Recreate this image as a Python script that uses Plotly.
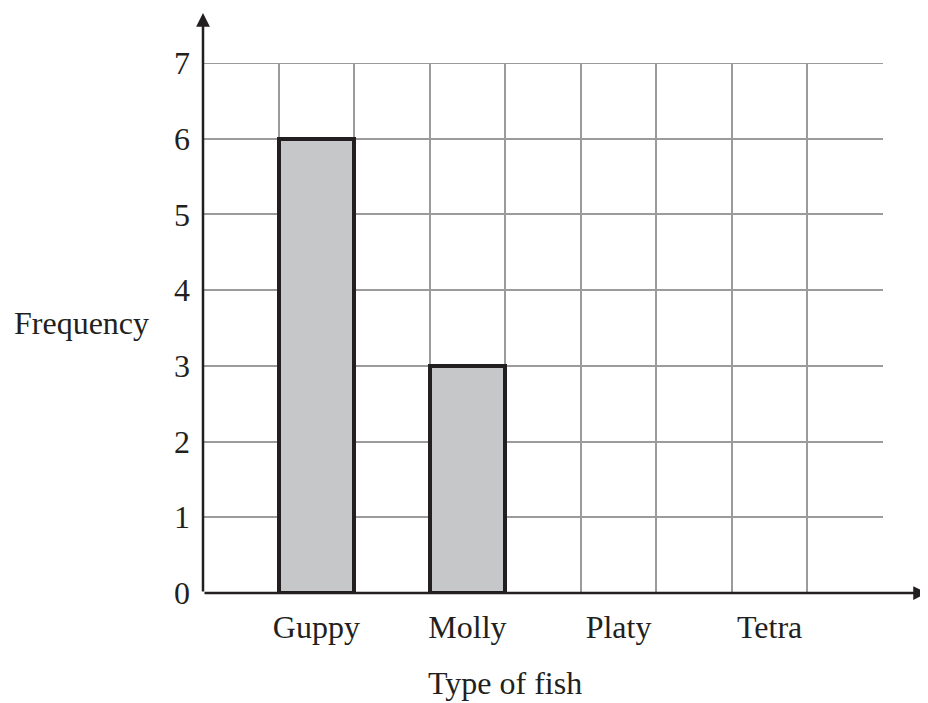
import plotly.graph_objects as go

categories = ["Guppy", "Molly", "Platy", "Tetra"]
frequency = [6, 3, 0, 0]
slot_positions = [1.5, 3.5, 5.5, 7.5]
y_ticks = [0, 1, 2, 3, 4, 5, 6, 7]
grid_x = [0, 1, 2, 3, 4, 5, 6, 7, 8, 9]

INK = "#231f20"
GRID = "#9b9b9b"
FONT = dict(family="Liberation Serif, Times New Roman, serif", size=32, color=INK)

W, H = 920, 695
ML, MR, MT, MB = 195, 45, 55, 110
PW = W - ML - MR
PH = H - MT - MB

fig = go.Figure()
fig.add_trace(go.Bar(
    x=slot_positions, y=frequency, width=1.0,
    marker=dict(color="#c6c7c9",
                line=dict(color=INK, width=[4 if v > 0 else 0 for v in frequency])),
    showlegend=False, hoverinfo="skip",
))

fig.update_layout(
    width=W, height=H,
    margin=dict(l=ML, r=MR, t=MT, b=MB),
    paper_bgcolor="white", plot_bgcolor="white",
    font=FONT,
    bargap=0,
    xaxis=dict(
        range=[0, 9], tickmode="array", tickvals=slot_positions, ticktext=categories,
        showgrid=False, zeroline=False, showline=False, ticks="",
        ticklabelstandoff=12, tickfont=FONT,
        minor=dict(tickmode="array", tickvals=grid_x, showgrid=True,
                   gridcolor=GRID, gridwidth=2, ticks=""),
    ),
    yaxis=dict(
        range=[0, 7], tickmode="array", tickvals=y_ticks,
        showgrid=True, gridcolor=GRID, gridwidth=2, zeroline=False,
        showline=False, ticks="", ticklabelstandoff=12, tickfont=FONT,
    ),
)

# top grid line at the last tick
fig.add_shape(type="line", xref="x", yref="y", x0=grid_x[0], x1=grid_x[-1],
              y0=y_ticks[-1], y1=y_ticks[-1], line=dict(color=GRID, width=2), layer="below")

# axis arrows
fig.add_annotation(x=0, xref="x", y=(PH + 50) / PH, yref="paper",
                   ax=0, ay=PH + 50, text="", showarrow=True,
                   arrowhead=2, arrowsize=1.1, arrowwidth=2.5, arrowcolor=INK)
fig.add_annotation(x=(PW + 44) / PW, xref="paper", y=0, yref="y",
                   ax=-(PW + 44), ay=0, text="", showarrow=True,
                   arrowhead=2, arrowsize=1.1, arrowwidth=2.5, arrowcolor=INK)

# axis titles
fig.add_annotation(x=-52 / PW, xref="paper", y=3.57, yref="y", text="Frequency",
                   showarrow=False, xanchor="right", yanchor="middle", font=FONT)
fig.add_annotation(x=(505 - 203) / PW, xref="paper", y=-(683 - 593) / PH, yref="paper",
                   text="Type of fish", showarrow=False, xanchor="center",
                   yanchor="middle", font=FONT)

fig.write_html("out.html")
